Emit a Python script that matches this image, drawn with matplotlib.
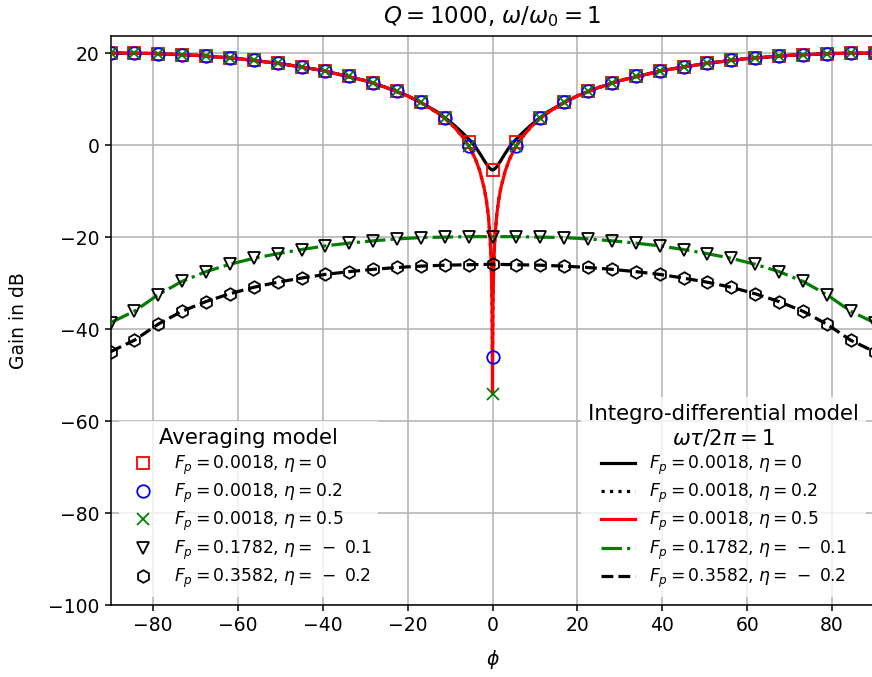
import matplotlib
matplotlib.use("Agg")
import matplotlib.pyplot as plt
from matplotlib.lines import Line2D

# ---------------- data ----------------
phi_markers = [-90, -84.375, -78.75, -73.125, -67.5, -61.875, -56.25, -50.625, -45,
               -39.375, -33.75, -28.125, -22.5, -16.875, -11.25, -5.625, 0,
               5.625, 11.25, 16.875, 22.5, 28.125, 33.75, 39.375, 45,
               50.625, 56.25, 61.875, 67.5, 73.125, 78.75, 84.375, 90]

avg_eta0 = [20.0, 19.9, 19.8, 19.6, 19.3, 18.9, 18.4, 17.8, 17.0, 16.0, 14.9, 13.5, 11.7, 9.3, 5.9, 0.7, -5.5,
            0.7, 5.9, 9.3, 11.7, 13.5, 14.9, 16.0, 17.0, 17.8, 18.4, 18.9, 19.3, 19.6, 19.8, 19.9, 20.0]
avg_eta02 = [20.0, 19.9, 19.8, 19.6, 19.3, 18.9, 18.4, 17.8, 17.0, 16.0, 14.9, 13.5, 11.7, 9.3, 5.9, -0.1, -46.0,
             -0.1, 5.9, 9.3, 11.7, 13.5, 14.9, 16.0, 17.0, 17.8, 18.4, 18.9, 19.3, 19.6, 19.8, 19.9, 20.0]
avg_eta05 = [20.0, 19.9, 19.8, 19.6, 19.3, 18.9, 18.4, 17.8, 17.0, 16.0, 14.9, 13.5, 11.7, 9.3, 5.9, -0.2, -54.0,
             -0.2, 5.9, 9.3, 11.7, 13.5, 14.9, 16.0, 17.0, 17.8, 18.4, 18.9, 19.3, 19.6, 19.8, 19.9, 20.0]
avg_tri = [-38.6, -36.1, -32.5, -29.6, -27.5, -25.9, -24.6, -23.6, -22.7, -21.9, -21.3, -20.8, -20.4, -20.1, -20.0, -19.9, -19.9,
           -19.9, -20.0, -20.1, -20.4, -20.8, -21.3, -21.9, -22.7, -23.6, -24.6, -25.9, -27.5, -29.6, -32.5, -36.1, -38.6]
avg_hex = [-44.9, -42.4, -38.9, -36.1, -34.0, -32.3, -30.9, -29.8, -28.9, -28.1, -27.5, -27.0, -26.6, -26.3, -26.1, -26.0, -25.9,
           -26.0, -26.1, -26.3, -26.6, -27.0, -27.5, -28.1, -28.9, -29.8, -30.9, -32.3, -34.0, -36.1, -38.9, -42.4, -44.9]

phi_line = [-90, -80, -70, -60, -50, -40, -30, -25, -20, -16, -13, -11, -9, -7, -6, -5, -4, -3, -2,
            -1.5, -1, -0.6, -0.3, -0.1, 0,
            0.1, 0.3, 0.6, 1, 1.5, 2, 3, 4, 5, 6, 7, 9, 11, 13, 16, 20, 25, 30, 40, 50, 60, 70, 80, 90]

int_eta0 = [20.0, 19.9, 19.5, 18.8, 17.7, 16.2, 14.0, 12.5, 10.7, 8.8, 7.2, 5.8, 4.3, 2.6, 1.7, 0.7, -0.4, -1.8, -3.3,
            -4.0, -4.7, -5.1, -5.3, -5.4, -5.4,
            -5.4, -5.3, -5.1, -4.7, -4.0, -3.3, -1.8, -0.4, 0.7, 1.7, 2.6, 4.3, 5.8, 7.2, 8.8, 10.7, 12.5, 14.0, 16.2, 17.7, 18.8, 19.5, 19.9, 20.0]
int_eta02 = [20.0, 19.9, 19.5, 18.8, 17.7, 16.2, 14.0, 12.5, 10.7, 8.8, 7.0, 5.6, 3.9, 1.7, 0.4, -1.2, -3.1, -5.6, -9.2,
             -11.6, -15.1, -19.5, -25.3, -33.5, -46.0,
             -33.5, -25.3, -19.5, -15.1, -11.6, -9.2, -5.6, -3.1, -1.2, 0.4, 1.7, 3.9, 5.6, 7.0, 8.8, 10.7, 12.5, 14.0, 16.2, 17.7, 18.8, 19.5, 19.9, 20.0]
int_eta05 = [20.0, 19.9, 19.5, 18.8, 17.7, 16.2, 14.0, 12.5, 10.7, 8.8, 7.0, 5.6, 3.9, 1.7, 0.4, -1.2, -3.1, -5.6, -9.2,
             -11.7, -15.2, -19.6, -25.6, -35.2, -54.0,
             -35.2, -25.6, -19.6, -15.2, -11.7, -9.2, -5.6, -3.1, -1.2, 0.4, 1.7, 3.9, 5.6, 7.0, 8.8, 10.7, 12.5, 14.0, 16.2, 17.7, 18.8, 19.5, 19.9, 20.0]
int_tri = avg_tri
int_hex = avg_hex

labels = [r'$F_p=0.0018$, $\eta=0$',
          r'$F_p=0.0018$, $\eta=0.2$',
          r'$F_p=0.0018$, $\eta=0.5$',
          r'$F_p=0.1782$, $\eta=\,-\;0.1$',
          r'$F_p=0.3582$, $\eta=\,-\;0.2$']

# ---------------- figure ----------------
fs = 12.3
tfs = 13.5
lfs = 15.3
plt.rcParams['font.size'] = fs
fig = plt.figure(figsize=(8.72, 6.77), dpi=100)
ax = fig.add_axes([110.5 / 872, (677 - 605.3) / 677, 764 / 872, (605.3 - 36) / 677])

lw = 2.3
ax.plot(phi_line, int_eta0, color='black', ls='-', lw=lw, zorder=3)
ax.plot(phi_line, int_eta02, color='black', ls=':', lw=lw, zorder=3)
ax.plot(phi_line, int_eta05, color='red', ls='-', lw=lw, zorder=3)
ax.plot(phi_markers, int_tri, color='green', ls='-.', lw=lw, zorder=3)
ax.plot(phi_markers, int_hex, color='black', ls='--', lw=lw, zorder=3)

ms = 9
mew = 1.3
ax.plot(phi_markers, avg_eta0, ls='none', marker='s', ms=ms, mfc='none', mec='red', mew=mew, zorder=4)
ax.plot(phi_markers, avg_eta02, ls='none', marker='o', ms=ms, mfc='none', mec='blue', mew=mew, zorder=4)
ax.plot(phi_markers, avg_eta05, ls='none', marker='x', ms=ms, mfc='none', mec='green', mew=mew, zorder=4)
ax.plot(phi_markers, avg_tri, ls='none', marker='v', ms=ms, mfc='none', mec='black', mew=mew, zorder=4)
ax.plot(phi_markers, avg_hex, ls='none', marker='h', ms=ms, mfc='none', mec='black', mew=mew, zorder=4)

ax.set_xlim(-90, 90)
ax.set_ylim(-100, 23.7)
ax.set_xticks([-80, -60, -40, -20, 0, 20, 40, 60, 80])
ax.set_yticks([-100, -80, -60, -40, -20, 0, 20])
ax.grid(True, color='#b0b0b0', lw=1.1)
ax.set_axisbelow(True)
for s in ax.spines.values():
    s.set_linewidth(1.1)
ax.tick_params(length=4.5, width=1.1, labelsize=tfs)

ax.set_title(r'$Q=1000$, $\omega/\omega_0=1$', fontsize=16.5, pad=9)
ax.set_xlabel(r'$\phi$', fontsize=tfs, labelpad=9)
ax.set_ylabel('Gain in dB', fontsize=tfs)
ax.yaxis.set_label_coords(-0.108, 0.5)

avg_handles = [
    Line2D([], [], ls='none', marker='s', ms=ms, mfc='none', mec='red', mew=mew),
    Line2D([], [], ls='none', marker='o', ms=ms, mfc='none', mec='blue', mew=mew),
    Line2D([], [], ls='none', marker='x', ms=ms, mfc='none', mec='green', mew=mew),
    Line2D([], [], ls='none', marker='v', ms=ms, mfc='none', mec='black', mew=mew),
    Line2D([], [], ls='none', marker='h', ms=ms, mfc='none', mec='black', mew=mew),
]
int_handles = [
    Line2D([], [], color='black', ls='-', lw=lw),
    Line2D([], [], color='black', ls=':', lw=lw),
    Line2D([], [], color='red', ls='-', lw=lw),
    Line2D([], [], color='green', ls='-.', lw=lw),
    Line2D([], [], color='black', ls='--', lw=lw),
]
leg1 = ax.legend(avg_handles, labels, loc='lower left', title='Averaging model',
                 fontsize=fs, title_fontsize=lfs, frameon=True, framealpha=0.8,
                 edgecolor='none', fancybox=False, labelspacing=0.3)
ax.add_artist(leg1)
leg2 = ax.legend(int_handles, labels, loc='lower right',
                 title='Integro-differential model\n' + r'$\omega\tau/2\pi=1$',
                 fontsize=fs, title_fontsize=lfs, frameon=True, framealpha=0.8,
                 edgecolor='none', fancybox=False, labelspacing=0.3)
leg2.get_title().set_multialignment('center')

fig.savefig('out.png', dpi=100)
